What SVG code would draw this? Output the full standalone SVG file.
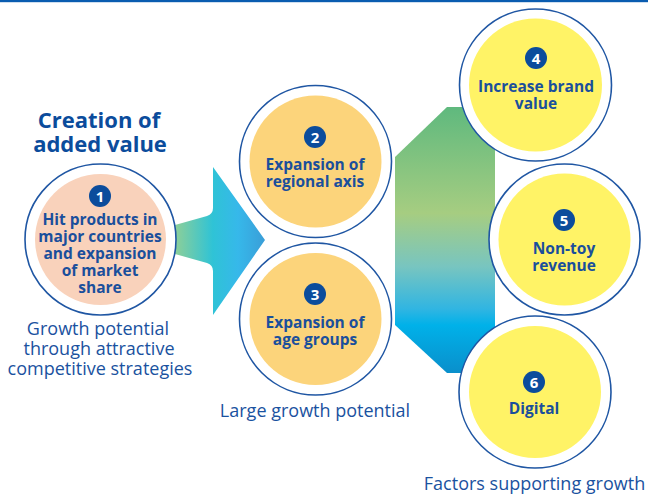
<svg xmlns="http://www.w3.org/2000/svg" width="648" height="495" viewBox="0 0 648 495">
<defs>
<linearGradient id="gArrow" gradientUnits="userSpaceOnUse" x1="175" y1="0" x2="265" y2="0">
<stop offset="0" stop-color="#8dcf98"/>
<stop offset="0.42" stop-color="#2fc3d6"/>
<stop offset="0.7" stop-color="#36b8ea"/>
<stop offset="1" stop-color="#3a9ed8"/>
</linearGradient>
<linearGradient id="gHex" gradientUnits="userSpaceOnUse" x1="0" y1="107" x2="0" y2="373">
<stop offset="0" stop-color="#5fb97e"/>
<stop offset="0.4" stop-color="#a6cd81"/>
<stop offset="0.6" stop-color="#78c5c0"/>
<stop offset="0.76" stop-color="#30b5e2"/>
<stop offset="0.82" stop-color="#00b1e9"/>
<stop offset="1" stop-color="#0a8fcb"/>
</linearGradient>
<style>
.ring{fill:#fff;stroke:#1f56a3;stroke-width:1.6}
.peach{fill:#f9d2bb}
.orange{fill:#fcd47b}
.yellow{fill:#fff366}
.badge{fill:#0b4c9c}
.num{fill:#fff;font-family:"Open Sans","Noto Sans",sans-serif;font-weight:700;font-size:15px;text-anchor:middle}
.lbl{fill:#1a4f9c;font-family:"Open Sans","Noto Sans",sans-serif;font-weight:700;font-size:15.5px;text-anchor:middle}
.cap{fill:#1a52a0;font-family:"Open Sans","Noto Sans",sans-serif;font-size:18px;text-anchor:middle}
.title{fill:#0b4c9c;font-family:"Open Sans","Noto Sans",sans-serif;font-weight:700;font-size:22px;text-anchor:middle}
</style>
</defs>
<rect x="0" y="0" width="648" height="495" fill="#fff"/>
<rect x="0" y="0" width="648" height="2.2" fill="#0a5cb0"/>

<g id="connectors">
<path d="M175,225 L207,216 Q213,214 213,208 L213,167 L265,240 L213,315 L213,271 Q213,265 207,263 L175,254 Z" fill="url(#gArrow)"/>
<path d="M395,157 L447,107 L495,107 L495,373 L447,373 L395,325 Z" fill="url(#gHex)"/>
</g>

<text class="title" x="99" y="128"><tspan x="99" y="128">Creation of</tspan><tspan x="100" y="152">added value</tspan></text>

<g id="node1">
<circle class="ring" cx="100.5" cy="239.5" r="75.5"/>
<circle class="peach" cx="100.5" cy="239.5" r="65.5"/>
<circle class="badge" cx="100" cy="196" r="11"/>
<text class="num" x="100" y="201.5">1</text>
<text class="lbl" x="100" y="225"><tspan x="100" y="225">Hit products in</tspan><tspan x="100" y="242">major countries</tspan><tspan x="100" y="259">and expansion</tspan><tspan x="100" y="276">of market</tspan><tspan x="100" y="293">share</tspan></text>
</g>
<text class="cap" x="99" y="335"><tspan x="98" y="335">Growth potential</tspan><tspan x="99" y="355">through attractive</tspan><tspan x="100" y="375">competitive strategies</tspan></text>

<g id="node2">
<circle class="ring" cx="315.5" cy="161.5" r="76"/>
<circle class="orange" cx="315.5" cy="161.5" r="66"/>
<circle class="badge" cx="315" cy="137" r="11"/>
<text class="num" x="315" y="142.5">2</text>
<text class="lbl" x="315" y="170"><tspan x="315" y="170">Expansion of</tspan><tspan x="315" y="187">regional axis</tspan></text>
</g>

<g id="node3">
<circle class="ring" cx="315.5" cy="319" r="76"/>
<circle class="orange" cx="315.5" cy="319" r="66"/>
<circle class="badge" cx="315" cy="294" r="11"/>
<text class="num" x="315" y="299.5">3</text>
<text class="lbl" x="315" y="328"><tspan x="315" y="328">Expansion of</tspan><tspan x="315" y="345">age groups</tspan></text>
</g>
<text class="cap" x="315" y="417">Large growth potential</text>

<g id="node4">
<circle class="ring" cx="535.5" cy="85" r="76"/>
<circle class="yellow" cx="535.5" cy="85" r="66.5"/>
<circle class="badge" cx="536" cy="58" r="11"/>
<text class="num" x="536" y="63.5">4</text>
<text class="lbl" x="536" y="92"><tspan x="536" y="92">Increase brand</tspan><tspan x="536" y="109">value</tspan></text>
</g>

<g id="node5">
<circle class="ring" cx="564.5" cy="239.5" r="75.5"/>
<circle class="yellow" cx="564.5" cy="239.5" r="66"/>
<circle class="badge" cx="564" cy="220" r="11"/>
<text class="num" x="564" y="225.5">5</text>
<text class="lbl" x="564" y="254"><tspan x="564" y="254">Non-toy</tspan><tspan x="564" y="271">revenue</tspan></text>
</g>

<g id="node6">
<circle class="ring" cx="535" cy="392" r="76"/>
<circle class="yellow" cx="535" cy="392" r="66"/>
<circle class="badge" cx="534" cy="382" r="11"/>
<text class="num" x="534" y="387.5">6</text>
<text class="lbl" x="534" y="414">Digital</text>
</g>
<text class="cap" x="534.5" y="490">Factors supporting growth</text>
</svg>
